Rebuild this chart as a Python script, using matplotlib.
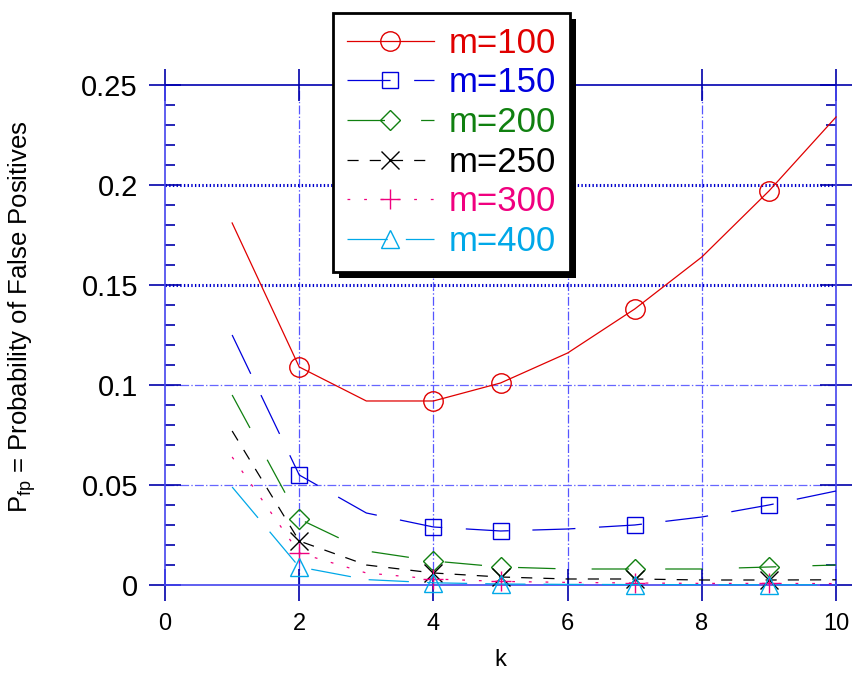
import matplotlib
matplotlib.use("Agg")
import matplotlib.pyplot as plt
from matplotlib.patches import Rectangle
from matplotlib.transforms import IdentityTransform
import numpy as np

plt.rcParams['font.family'] = ['Liberation Sans', 'DejaVu Sans']
plt.rcParams['mathtext.fontset'] = 'custom'
plt.rcParams['mathtext.rm'] = 'Liberation Sans'
plt.rcParams['mathtext.default'] = 'regular'
plt.rcParams['lines.scale_dashes'] = False

# number of hash functions
k = [1, 2, 3, 4, 5, 6, 7, 8, 9, 10]

# false positive probability, one list per filter size
p_m100 = [0.181, 0.109, 0.092, 0.092, 0.101, 0.116, 0.138, 0.164, 0.197, 0.234]
p_m150 = [0.125, 0.055, 0.036, 0.029, 0.027, 0.028, 0.030, 0.034, 0.040, 0.047]
p_m200 = [0.095, 0.033, 0.017, 0.012, 0.009, 0.008, 0.008, 0.008, 0.009, 0.010]
p_m250 = [0.077, 0.022, 0.010, 0.006, 0.004, 0.003, 0.003, 0.0025, 0.0025, 0.0026]
p_m300 = [0.064, 0.016, 0.006, 0.003, 0.0018, 0.0013, 0.001, 0.0008, 0.0008, 0.0007]
p_m400 = [0.049, 0.009, 0.0027, 0.0011, 0.0005, 0.0003, 0.0002, 0.00014, 0.0001, 0.0001]

labels = ['m=100', 'm=150', 'm=200', 'm=250', 'm=300', 'm=400']
series = [p_m100, p_m150, p_m200, p_m250, p_m300, p_m400]

xticks = [0, 2, 4, 6, 8, 10]
yticks = [0, 0.05, 0.1, 0.15, 0.2, 0.25]
yticklabels = ['0', '0.05', '0.1', '0.15', '0.2', '0.25']

colors = ['#e00000', '#0000dd', '#108010', '#000000', '#f0007f', '#00a8e8']
styles = ['-', (0, (31, 17)), (0, (27, 26)), (0, (8, 8)), (0, (2, 10)), (0, (29, 13))]
markers = ['o', 's', 'D', 'x', '+', '^']
msizes = [14, 12, 10, 13, 15, 13]
mark_at = [1, 3, 4, 6, 8]   # markers only at k = 2, 4, 5, 7, 9

fig = plt.figure(figsize=(8.52, 6.77), dpi=100)
ax = fig.add_axes([0.1937, 0.1359, 0.7876, 0.7386])

# grid
for x in [2, 4, 6, 8]:
    ax.axvline(x, color='#5555ff', lw=0.9, ls='-.', zorder=1)
for y in [0.05, 0.1]:
    ax.axhline(y, color='#6666ff', lw=0.9, ls='-.', zorder=1)
for y in [0.15, 0.2]:
    ax.axhline(y, color='#0000cc', lw=2.2, ls=':', zorder=1)

for ys, lab, c, st, mk, ms in zip(series, labels, colors, styles, markers, msizes):
    ax.plot(k, ys, color=c, ls=st, lw=0.9, marker=mk, ms=ms, mfc='none',
            mec=c, mew=1.0, markevery=mark_at, label=lab, clip_on=False, zorder=3)

ax.set_xlim(0, 10)
ax.set_ylim(0, 0.25)
ax.set_xticks(xticks)
ax.set_xticklabels([str(v) for v in xticks])
ax.set_yticks(yticks)
ax.set_yticklabels(yticklabels)
ax.set_yticks(np.arange(0.01, 0.25, 0.01), minor=True)

ax.tick_params(which='major', direction='inout', length=23, width=1.2,
               color='#0000aa', top=True, right=True)
ax.tick_params(which='minor', axis='y', direction='in', length=7, width=1.2,
               color='#0000aa', left=True, right=True)
ax.tick_params(axis='y', labelsize=21, pad=8)
ax.tick_params(axis='x', labelsize=17, pad=9)

for side in ['left', 'right', 'bottom']:
    ax.spines[side].set_color('#4444ee')
    ax.spines[side].set_linewidth(1.2)
ax.spines['top'].set_color('#0000b0')
ax.spines['top'].set_linewidth(1.2)

ax.set_ylabel(r'P$_{fp}$ = Probability of False Positives', fontsize=18.5)
ax.yaxis.set_label_coords(-0.19, 0.537)
ax.set_xlabel('k', fontsize=17)
ax.xaxis.set_label_coords(0.5, -0.128)

leg = ax.legend(loc='upper left', bbox_to_anchor=(0.3908, 0.9808),
                bbox_transform=fig.transFigure, borderaxespad=0,
                fontsize=25, labelcolor='linecolor', fancybox=False,
                framealpha=1, edgecolor='black', handlelength=2.5,
                handletextpad=0.43, labelspacing=0.19, borderpad=0.4)
leg.get_frame().set_linewidth(2)
leg.set_zorder(6)

fig.canvas.draw()
bb = leg.get_window_extent()
shadow = Rectangle((bb.x0 + 6, bb.y0 - 6), bb.width, bb.height,
                   transform=IdentityTransform(), facecolor='black',
                   edgecolor='none', clip_on=False, zorder=5.5)
ax.add_patch(shadow)

fig.savefig('out.png', dpi=100)
